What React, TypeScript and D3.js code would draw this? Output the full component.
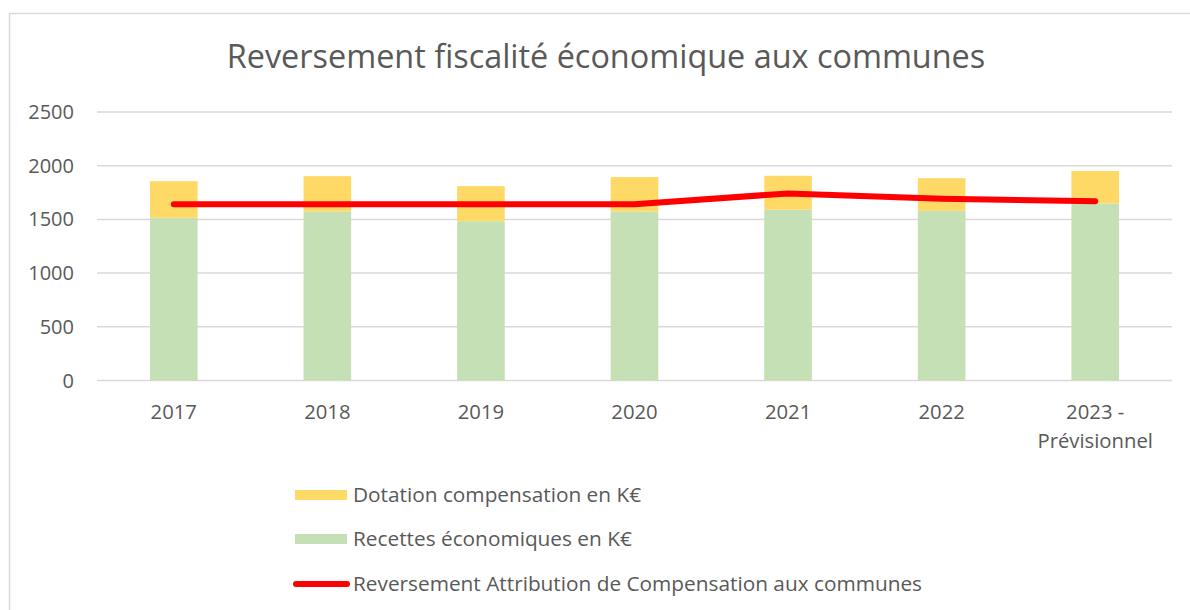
import React from 'react';
import * as d3 from 'd3';

const years = ['2017', '2018', '2019', '2020', '2021', '2022', '2023 - Prévisionnel'];
const recettes = [1515, 1573, 1483, 1573, 1590, 1580, 1648];
const dotation = [341, 330, 327, 321, 316, 304, 302];
const reversement = [1640, 1640, 1640, 1640, 1742, 1692, 1670];
const yTicks = [0, 500, 1000, 1500, 2000, 2500];

const seriesNames = ['Dotation compensation en K€', 'Recettes économiques en K€', 'Reversement Attribution de Compensation aux communes'];

const W = 1190;
const H = 610;
const m = {left: 97, right: 1172, top: 112, bottom: 380.5};
const font = '"Open Sans", sans-serif';
const txt = '#595959';

export default function App() {
  const x = d3.scaleBand().domain(years).range([m.left, m.right]).paddingInner(0.69).paddingOuter(0.345);
  const y = d3.scaleLinear().domain([0, 2500]).range([m.bottom, m.top]);

  const rows = years.map((yr, i) => ({year: yr, recettes: recettes[i], dotation: dotation[i]}));
  const stack = d3.stack<any>().keys(['recettes', 'dotation'])(rows);
  const colors: Record<string, string> = {recettes: '#C5E0B4', dotation: '#FFD966'};

  const line = d3.line<number>()
    .x((_, i) => (x(years[i]) as number) + x.bandwidth() / 2)
    .y(d => y(d));

  return (
    <svg width={W} height={H} style={{position: 'absolute', left: 0, top: 0}} fontFamily={font}>
      <rect x={0} y={0} width={W} height={H} fill="#fff" />
      <rect x={9.5} y={13.5} width={1200} height={700} fill="none" stroke="#D9D9D9" strokeWidth={1.5} />
      <text x={606} y={68} textAnchor="middle" fontSize={32.4} fill={txt}>Reversement fiscalité économique aux communes</text>

      {yTicks.map(t => (
        <g key={t}>
          <line x1={m.left} x2={m.right} y1={y(t)} y2={y(t)} stroke="#D9D9D9" strokeWidth={1.5} />
          <text x={74} y={y(t)} dy="0.35em" textAnchor="end" fontSize={20} fill={txt}>{t}</text>
        </g>
      ))}

      {stack.map(s => (
        <g key={s.key} fill={colors[s.key]}>
          {s.map((d, i) => (
            <rect key={i} x={x(years[i])} width={x.bandwidth()} y={y(d[1])} height={y(d[0]) - y(d[1])} />
          ))}
        </g>
      ))}

      <path d={line(reversement) || ''} fill="none" stroke="#FF0000" strokeWidth={6} strokeLinecap="round" strokeLinejoin="round" />

      {years.map(yr => {
        const parts = yr.split(' - ');
        const cx = (x(yr) as number) + x.bandwidth() / 2;
        return (
          <text key={yr} x={cx} y={419} textAnchor="middle" fontSize={20.3} fill={txt}>
            {parts.length > 1
              ? [<tspan key="a" x={cx}>{parts[0] + ' -'}</tspan>, <tspan key="b" x={cx} dy={28.5}>{parts[1]}</tspan>]
              : yr}
          </text>
        );
      })}

      <g fontSize={20.8} fill={txt}>
        <rect x={295} y={490} width={52} height={10} fill="#FFD966" />
        <text x={353} y={502}>{seriesNames[0]}</text>
        <rect x={295} y={534} width={52} height={10} fill="#C5E0B4" />
        <text x={353} y={546}>{seriesNames[1]}</text>
        <line x1={296} x2={347} y1={584} y2={584} stroke="#FF0000" strokeWidth={6} strokeLinecap="round" />
        <text x={353} y={591}>{seriesNames[2]}</text>
      </g>
    </svg>
  );
}
